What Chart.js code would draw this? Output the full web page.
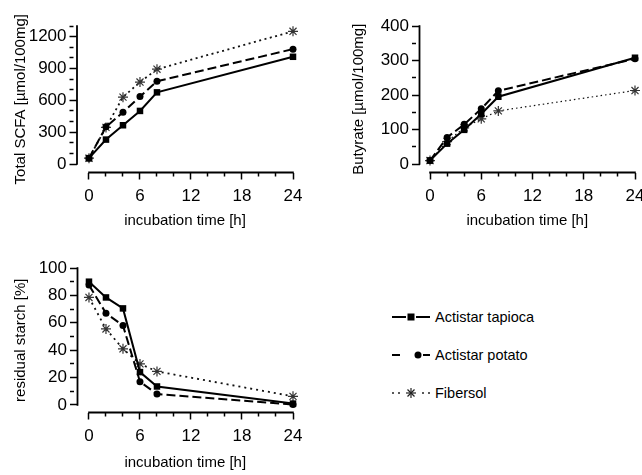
<!DOCTYPE html>
<html>
<head>
<meta charset="utf-8">
<script src="https://cdn.jsdelivr.net/npm/chart.js@4.4.0/dist/chart.umd.min.js"></script>
<style>
    body { margin: 0; background: #fff; width: 642px; height: 475px; position: relative; overflow: hidden;
           font-family: "Liberation Sans", Arial, sans-serif; }
    .panel { position: absolute; }
    #p1 { left: 0; top: 0; width: 321px; height: 237px; }
    #p2 { left: 321px; top: 0; width: 321px; height: 237px; }
    #p3 { left: 0; top: 240px; width: 321px; height: 235px; }
    .legend-row { position: absolute; left: 391px; height: 20px; display: flex; align-items: center;
                  font-size: 14.5px; color: #000; }
    .legend-row svg { margin-right: 4px; }
</style>
</head>
<body>
<div class="panel" id="p1"><canvas id="scfaChart"></canvas></div>
<div class="panel" id="p2"><canvas id="butyrateChart"></canvas></div>
<div class="panel" id="p3"><canvas id="starchChart"></canvas></div>

<div class="legend-row" style="top:307px">
    <svg width="40" height="20"><line x1="1" y1="10" x2="15" y2="10" stroke="#000" stroke-width="2"/><rect x="16.5" y="6.5" width="7" height="7" fill="#000"/><line x1="25" y1="10" x2="39" y2="10" stroke="#000" stroke-width="2"/></svg>
    <span>Actistar tapioca</span>
</div>
<div class="legend-row" style="top:345px">
    <svg width="40" height="20"><line x1="1" y1="10" x2="9" y2="10" stroke="#000" stroke-width="2"/><circle cx="27" cy="10" r="3.5" fill="#000"/><line x1="32" y1="10" x2="39" y2="10" stroke="#000" stroke-width="2"/></svg>
    <span>Actistar potato</span>
</div>
<div class="legend-row" style="top:383px">
    <svg width="40" height="20"><g stroke="#222" stroke-width="1.6"><line x1="1" y1="10" x2="3" y2="10"/><line x1="7" y1="10" x2="9" y2="10"/><line x1="31" y1="10" x2="33" y2="10"/><line x1="37" y1="10" x2="39" y2="10"/></g><g stroke="#222" stroke-width="1.2"><line x1="15" y1="10" x2="25" y2="10"/><line x1="20" y1="5" x2="20" y2="15"/><line x1="16.5" y1="6.5" x2="23.5" y2="13.5"/><line x1="16.5" y1="13.5" x2="23.5" y2="6.5"/></g></svg>
    <span>Fibersol</span>
</div>

<script>
const hours = [0, 2, 4, 6, 8, 24];

const scfaTapioca = [55, 230, 365, 500, 675, 1010];
const scfaPotato = [55, 350, 487, 635, 780, 1082];
const scfaFibersol = [55, 345, 630, 772, 893, 1250];

const butyrateTapioca = [10, 59, 99, 145, 195, 308];
const butyratePotato = [10, 77, 115, 160, 212, 305];
const butyrateFibersol = [10, 65, 105, 131, 154, 213];

const starchTapioca = [90, 78.5, 70.5, 24, 13.5, 1];
const starchPotato = [87.5, 67, 58, 17, 8, 0.3];
const starchFibersol = [78.5, 55.5, 41, 30, 24.5, 6.3];

const hourTicks = [0, 2, 4, 6, 8, 10, 12, 14, 16, 18, 20, 22, 24];
const hourLabels = [0, 6, 12, 18, 24];
const scfaTicks = [0, 100, 200, 300, 400, 500, 600, 700, 800, 900, 1000, 1100, 1200, 1300];
const scfaLabels = [0, 300, 600, 900, 1200];
const butyrateTicks = [0, 50, 100, 150, 200, 250, 300, 350, 400];
const butyrateLabels = [0, 100, 200, 300, 400];
const starchTicks = [0, 10, 20, 30, 40, 50, 60, 70, 80, 90, 100];
const starchLabels = [0, 20, 40, 60, 80, 100];

const FONT = '"Liberation Sans", Arial, sans-serif';

// offset axes: line from 0 to the last tick, not the whole chart area
const axisLines = {
    id: 'axisLines',
    beforeDatasetsDraw(chart) {
        const { ctx, scales: { x, y } } = chart;
        ctx.save();
        ctx.strokeStyle = '#000';
        ctx.lineWidth = 1.8;
        ctx.beginPath();
        ctx.moveTo(x.getPixelForValue(0) - 0.8, x.top);
        ctx.lineTo(x.getPixelForValue(x.max) + 0.8, x.top);
        ctx.moveTo(y.right, y.getPixelForValue(0) + 0.8);
        ctx.lineTo(y.right, y.getPixelForValue(y.max) - 0.8);
        ctx.stroke();
        ctx.restore();
    }
};

function points(values) {
    return hours.map((h, i) => ({ x: h, y: values[i] }));
}

function makeDatasets(tapioca, potato, fibersol, fiberDash, fiberWidth) {
    return [
        {
            label: 'Actistar tapioca', data: points(tapioca),
            borderColor: '#000', borderWidth: 2,
            pointStyle: 'rect', pointRadius: 4.6, pointBackgroundColor: '#000', pointBorderColor: '#000', pointBorderWidth: 0
        },
        {
            label: 'Actistar potato', data: points(potato),
            borderColor: '#000', borderWidth: 2, borderDash: [9, 4],
            pointStyle: 'circle', pointRadius: 3.5, pointBackgroundColor: '#000', pointBorderColor: '#000', pointBorderWidth: 0
        },
        {
            label: 'Fibersol', data: points(fibersol),
            borderColor: '#111', borderWidth: fiberWidth, borderDash: fiberDash,
            pointStyle: 'star', pointRadius: 5, pointBorderColor: '#333', pointBorderWidth: 1.2
        }
    ];
}

function makeChart(id, datasets, cfg) {
    const ctx = document.getElementById(id).getContext('2d');
    return new Chart(ctx, {
        type: 'line',
        data: { datasets: datasets },
        options: {
            responsive: true,
            maintainAspectRatio: false,
            animation: false,
            devicePixelRatio: 1,
            clip: false,
            layout: { autoPadding: false, padding: cfg.padding },
            elements: { line: { tension: 0 } },
            plugins: { legend: { display: false }, tooltip: { enabled: false } },
            scales: {
                x: {
                    type: 'linear', min: cfg.xMin, max: 24,
                    afterBuildTicks: s => { s.ticks = hourTicks.map(v => ({ value: v })); },
                    // the last label may run off the canvas, as in the original
                    afterFit: s => { s.height = cfg.xHeight; s.paddingLeft = 0; s.paddingRight = 0; },
                    border: { display: false },
                    grid: {
                        drawOnChartArea: false, tickLength: 7, tickWidth: 1.5, tickColor: '#000',
                        tickBorderDash: c => hourLabels.includes(c.tick.value) ? [] : [3.5, 30]
                    },
                    ticks: {
                        padding: 7, color: '#000', autoSkip: false, maxRotation: 0,
                        font: { family: FONT, size: 17 },
                        callback: v => hourLabels.includes(v) ? String(v) : ''
                    },
                    title: {
                        display: true, text: 'incubation time [h]', color: '#000', padding: 0,
                        font: { family: FONT, size: 15 }
                    }
                },
                y: {
                    type: 'linear', min: cfg.yMin, max: cfg.yMax,
                    afterBuildTicks: s => { s.ticks = cfg.yTicks.map(v => ({ value: v })); },
                    afterFit: s => { s.width = cfg.yWidth; },
                    border: { display: false },
                    grid: {
                        drawOnChartArea: false, tickLength: 7.5, tickWidth: 1.5, tickColor: '#000',
                        tickBorderDash: c => cfg.yLabels.includes(c.tick.value) ? [] : [4, 30]
                    },
                    ticks: {
                        padding: 3, color: '#000', autoSkip: false,
                        font: { family: FONT, size: 17 },
                        callback: v => cfg.yLabels.includes(v) ? String(v) : ''
                    },
                    title: {
                        display: true, text: cfg.yTitle, color: '#000', padding: 0,
                        font: { family: FONT, size: 15 }
                    }
                }
            }
        },
        plugins: [axisLines]
    });
}

makeChart('scfaChart', makeDatasets(scfaTapioca, scfaPotato, scfaFibersol, [2, 3.5], 1.8), {
    padding: { left: 11.5, top: 26, right: 28, bottom: 7 },
    xMin: -1.41, xHeight: 57.5,
    yMin: -80, yMax: 1300, yWidth: 65.5,
    yTicks: scfaTicks, yLabels: scfaLabels,
    yTitle: 'Total SCFA [µmol/100mg]'
});

makeChart('butyrateChart', makeDatasets(butyrateTapioca, butyratePotato, butyrateFibersol, [1.5, 3], 1.2), {
    padding: { left: 28.5, top: 26, right: 7, bottom: 7 },
    xMin: -1.23, xHeight: 57.5,
    yMin: -24.6, yMax: 400, yWidth: 70,
    yTicks: butyrateTicks, yLabels: butyrateLabels,
    yTitle: 'Butyrate [µmol/100mg]'
});

makeChart('starchChart', makeDatasets(starchTapioca, starchPotato, starchFibersol, [2, 4], 1.8), {
    padding: { left: 11.5, top: 28, right: 28, bottom: 3 },
    xMin: -1.35, xHeight: 59.5,
    yMin: -5.5, yMax: 100, yWidth: 66,
    yTicks: starchTicks, yLabels: starchLabels,
    yTitle: 'residual starch [%]'
});
</script>
</body>
</html>
